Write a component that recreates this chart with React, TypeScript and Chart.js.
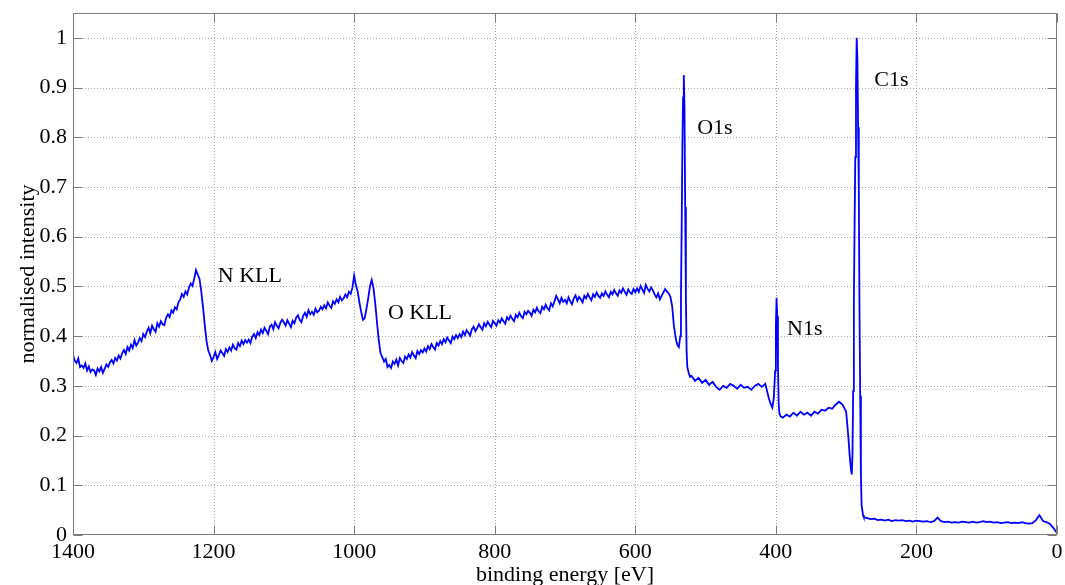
import React, { useEffect, useRef } from 'react';
import { Chart, registerables } from 'chart.js';

Chart.register(...registerables);

// ---- axis ticks ----
const xTickValues = [1400, 1200, 1000, 800, 600, 400, 200, 0];
const yTickValues = [0, 0.1, 0.2, 0.3, 0.4, 0.5, 0.6, 0.7, 0.8, 0.9, 1];

// ---- spectrum: Auger region 1400 -> 545 eV, 2.5 eV steps ----
const augerStart = 1400;
const augerStep = 2.5;
const augerIntensity = [
  0.362, 0.351, 0.346, 0.355, 0.338, 0.341, 0.336, 0.345, 0.331, 0.339, 0.328, 0.333, 0.331, 0.322, 0.335, 0.329, 0.338, 0.326, 0.334, 0.343,
  0.338, 0.347, 0.352, 0.345, 0.356, 0.351, 0.361, 0.355, 0.366, 0.372, 0.364, 0.378, 0.371, 0.383, 0.376, 0.392, 0.381, 0.387, 0.396, 0.390,
  0.404, 0.398, 0.409, 0.417, 0.406, 0.421, 0.414, 0.409, 0.426, 0.419, 0.430, 0.424, 0.422, 0.437, 0.444, 0.438, 0.452, 0.447, 0.458, 0.454,
  0.468, 0.474, 0.485, 0.479, 0.490, 0.484, 0.498, 0.506, 0.501, 0.516, 0.533, 0.524, 0.515, 0.490, 0.458, 0.422, 0.390, 0.371, 0.362, 0.350,
  0.358, 0.368, 0.354, 0.362, 0.371, 0.366, 0.360, 0.374, 0.368, 0.377, 0.371, 0.383, 0.376, 0.373, 0.386, 0.380, 0.391, 0.384, 0.392, 0.387,
  0.393, 0.386, 0.399, 0.404, 0.396, 0.408, 0.402, 0.413, 0.406, 0.417, 0.411, 0.404, 0.419, 0.423, 0.414, 0.428, 0.421, 0.416, 0.427, 0.433,
  0.428, 0.421, 0.432, 0.425, 0.418, 0.431, 0.426, 0.437, 0.442, 0.433, 0.428, 0.441, 0.447, 0.439, 0.452, 0.444, 0.449, 0.443, 0.455, 0.448,
  0.451, 0.459, 0.454, 0.462, 0.456, 0.468, 0.461, 0.457, 0.470, 0.465, 0.474, 0.468, 0.479, 0.472, 0.476, 0.484, 0.478, 0.489, 0.485, 0.497,
  0.522, 0.503, 0.490, 0.468, 0.449, 0.433, 0.436, 0.455, 0.476, 0.500, 0.513, 0.497, 0.466, 0.428, 0.392, 0.366, 0.358, 0.349, 0.354, 0.338,
  0.342, 0.336, 0.349, 0.344, 0.353, 0.341, 0.356, 0.350, 0.346, 0.359, 0.354, 0.363, 0.357, 0.368, 0.361, 0.356, 0.370, 0.364, 0.372, 0.367,
  0.375, 0.369, 0.380, 0.374, 0.384, 0.378, 0.373, 0.386, 0.381, 0.390, 0.384, 0.394, 0.388, 0.397, 0.391, 0.386, 0.399, 0.394, 0.402, 0.396,
  0.404, 0.398, 0.409, 0.402, 0.412, 0.407, 0.401, 0.414, 0.419, 0.410, 0.416, 0.424, 0.418, 0.413, 0.426, 0.420, 0.429, 0.423, 0.418, 0.431,
  0.426, 0.421, 0.432, 0.427, 0.436, 0.430, 0.425, 0.438, 0.433, 0.441, 0.435, 0.430, 0.443, 0.438, 0.447, 0.440, 0.436, 0.449, 0.444, 0.451,
  0.447, 0.441, 0.453, 0.448, 0.457, 0.450, 0.446, 0.459, 0.454, 0.463, 0.456, 0.452, 0.466, 0.460, 0.470, 0.481, 0.474, 0.466, 0.477, 0.469,
  0.473, 0.466, 0.478, 0.470, 0.464, 0.476, 0.482, 0.471, 0.479, 0.474, 0.468, 0.481, 0.476, 0.485, 0.478, 0.472, 0.484, 0.479, 0.488, 0.481,
  0.477, 0.486, 0.481, 0.490, 0.483, 0.478, 0.489, 0.484, 0.493, 0.486, 0.481, 0.492, 0.487, 0.496, 0.489, 0.483, 0.494, 0.488, 0.485, 0.495,
  0.488, 0.496, 0.489, 0.501, 0.494, 0.487, 0.503, 0.495, 0.490, 0.498, 0.492, 0.484, 0.478, 0.486, 0.474, 0.481, 0.488, 0.495, 0.490, 0.486,
  0.479, 0.460, 0.420,
];

// ---- O1s peak ----
const o1sEnergy = [542, 540, 538, 536, 535, 534, 533, 532, 531, 530, 529, 528, 527, 526, 524, 522];
const o1sIntensity = [0.392, 0.382, 0.378, 0.400, 0.480, 0.620, 0.780, 0.880, 0.925, 0.860, 0.660, 0.480, 0.370, 0.338, 0.326, 0.318];

// ---- between O1s and N1s: 520 -> 410 eV, 5 eV steps ----
const midStart = 520;
const midStep = 5;
const midIntensity = [
  0.320, 0.310, 0.316, 0.306, 0.312, 0.302, 0.308, 0.298, 0.292, 0.300,
  0.296, 0.304, 0.300, 0.294, 0.302, 0.296, 0.298, 0.292, 0.300, 0.304,
  0.298, 0.304, 0.275,
];

// ---- N1s peak ----
const n1sEnergy = [407, 405, 403, 401, 400, 399, 398, 397, 396, 395, 393];
const n1sIntensity = [0.262, 0.256, 0.275, 0.330, 0.420, 0.477, 0.440, 0.340, 0.265, 0.245, 0.238];

// ---- between N1s and C1s: 390 -> 300 eV, 5 eV steps ----
const lowStart = 390;
const lowStep = 5;
const lowIntensity = [
  0.236, 0.242, 0.238, 0.246, 0.240, 0.248, 0.242, 0.246, 0.240, 0.248,
  0.244, 0.252, 0.250, 0.256, 0.254, 0.262, 0.268, 0.262, 0.248,
];

// ---- C1s peak ----
const c1sEnergy = [297, 295, 293, 292, 291, 290, 289, 288, 287, 286, 285, 284, 283, 282, 281, 280, 279, 278, 276];
const c1sIntensity = [0.200, 0.160, 0.130, 0.122, 0.160, 0.290, 0.470, 0.620, 0.760, 0.900, 1.000, 0.960, 0.820, 0.700, 0.450, 0.280, 0.120, 0.060, 0.040];

// ---- tail: 275 -> 0 eV, 5 eV steps ----
const tailStart = 275;
const tailStep = 5;
const tailIntensity = [
  0.036, 0.034, 0.032, 0.033, 0.030, 0.031, 0.029, 0.031, 0.028, 0.030,
  0.029, 0.030, 0.028, 0.029, 0.027, 0.029, 0.028, 0.027, 0.028, 0.026,
  0.028, 0.035, 0.028, 0.026, 0.027, 0.025, 0.026, 0.025, 0.027, 0.026,
  0.025, 0.027, 0.025, 0.026, 0.028, 0.026, 0.027, 0.025, 0.026, 0.024,
  0.025, 0.026, 0.024, 0.025, 0.024, 0.026, 0.024, 0.023, 0.024, 0.030,
  0.040, 0.028, 0.026, 0.022, 0.014, 0.004,
];

// ---- peak annotations (text, energy, intensity of baseline-left) ----
const annotationText = ['N KLL', 'O KLL', 'O1s', 'N1s', 'C1s'];
const annotationEnergy = [1194, 952, 512, 384, 260];
const annotationIntensity = [0.509, 0.435, 0.807, 0.402, 0.903];

const FONT = '"Liberation Serif", "DejaVu Serif", serif';

type Pt = { x: number; y: number };
const regular = (start: number, step: number, vals: number[]): Pt[] =>
  vals.map((v, i) => ({ x: start - i * step, y: v }));
const explicit = (es: number[], vals: number[]): Pt[] =>
  vals.map((v, i) => ({ x: es[i], y: v }));

const spectrum: Pt[] = [
  ...regular(augerStart, augerStep, augerIntensity),
  ...explicit(o1sEnergy, o1sIntensity),
  ...regular(midStart, midStep, midIntensity),
  ...explicit(n1sEnergy, n1sIntensity),
  ...regular(lowStart, lowStep, lowIntensity),
  ...explicit(c1sEnergy, c1sIntensity),
  ...regular(tailStart, tailStep, tailIntensity),
];

const framePlugin = {
  id: 'matlabFrame',
  beforeDatasetsDraw(chart: any) {
    const { ctx, chartArea: a, scales } = chart;
    const xs = scales.x;
    const ys = scales.y;
    ctx.save();
    ctx.strokeStyle = '#a6a6a6';
    ctx.lineWidth = 1;
    ctx.setLineDash([1, 2]);
    ctx.beginPath();
    for (const t of xTickValues) {
      const px = Math.round(xs.getPixelForValue(t)) + 0.5;
      if (px <= a.left + 2 || px >= a.right - 2) continue;
      ctx.moveTo(px, a.top);
      ctx.lineTo(px, a.bottom);
    }
    for (const t of yTickValues) {
      const py = Math.round(ys.getPixelForValue(t)) + 0.5;
      if (py <= a.top + 2 || py >= a.bottom - 2) continue;
      ctx.moveTo(a.left, py);
      ctx.lineTo(a.right, py);
    }
    ctx.stroke();
    ctx.restore();
  },
  afterDatasetsDraw(chart: any) {
    const { ctx, chartArea: a, scales } = chart;
    const xs = scales.x;
    const ys = scales.y;
    const L = Math.round(a.left) + 0.5;
    const R = Math.round(a.right) - 0.5;
    const T = Math.round(a.top) + 0.5;
    const B = Math.round(a.bottom) - 0.5;
    ctx.save();
    ctx.setLineDash([]);
    ctx.strokeStyle = '#7a7a7a';
    ctx.lineWidth = 1;
    ctx.strokeRect(L, T, R - L, B - T);
    const tl = 9;
    ctx.beginPath();
    for (const t of xTickValues) {
      const px = Math.round(xs.getPixelForValue(t)) + 0.5;
      ctx.moveTo(px, B);
      ctx.lineTo(px, B - tl);
      ctx.moveTo(px, T);
      ctx.lineTo(px, T + tl);
    }
    for (const t of yTickValues) {
      const py = Math.round(ys.getPixelForValue(t)) + 0.5;
      ctx.moveTo(L, py);
      ctx.lineTo(L + tl, py);
      ctx.moveTo(R, py);
      ctx.lineTo(R - tl, py);
    }
    ctx.stroke();

    // annotations
    ctx.fillStyle = '#000';
    ctx.font = `22px ${FONT}`;
    ctx.textAlign = 'left';
    ctx.textBaseline = 'alphabetic';
    annotationText.forEach((txt, i) => {
      ctx.fillText(txt, xs.getPixelForValue(annotationEnergy[i]), ys.getPixelForValue(annotationIntensity[i]));
    });

    // axis titles
    ctx.textAlign = 'center';
    ctx.fillText('binding energy [eV]', (a.left + a.right) / 2, 581);
    ctx.save();
    ctx.translate(34, (a.top + a.bottom) / 2);
    ctx.rotate(-Math.PI / 2);
    ctx.fillText('normalised intensity', 0, 0);
    ctx.restore();
    ctx.restore();
  },
};

export default function App() {
  const ref = useRef<HTMLCanvasElement | null>(null);
  useEffect(() => {
    if (!ref.current) return;
    const chart = new Chart(ref.current, {
      type: 'line',
      data: {
        datasets: [
          {
            data: spectrum,
            borderColor: '#0000ff',
            borderWidth: 1.8,
            pointRadius: 0,
            tension: 0,
            fill: false,
          },
        ],
      },
      options: {
        animation: false,
        responsive: false,
        devicePixelRatio: 1,
        layout: { padding: { top: 13, right: 8, left: 0, bottom: 0 } },
        plugins: { legend: { display: false }, tooltip: { enabled: false } },
        scales: {
          x: {
            type: 'linear',
            reverse: true,
            min: 0,
            max: 1400,
            afterBuildTicks: (s: any) => {
              s.ticks = xTickValues.map((v) => ({ value: v }));
            },
            afterFit: (s: any) => {
              s.height = 50;
              s.paddingLeft = 0;
              s.paddingRight = 0;
            },
            grid: { display: false, drawTicks: false },
            border: { display: false },
            ticks: {
              color: '#000',
              font: { family: FONT, size: 22 },
              padding: 4,
              maxRotation: 0,
              autoSkip: false,
              callback: (v: any) => String(v),
            },
          },
          y: {
            type: 'linear',
            min: 0,
            max: 1.05,
            afterBuildTicks: (s: any) => {
              s.ticks = yTickValues.map((v) => ({ value: v }));
            },
            afterFit: (s: any) => {
              s.width = 73;
              s.paddingTop = 0;
              s.paddingBottom = 0;
            },
            grid: { display: false, drawTicks: false },
            border: { display: false },
            ticks: {
              color: '#000',
              font: { family: FONT, size: 22 },
              padding: 6,
              autoSkip: false,
              callback: (v: any) => String(Math.round(Number(v) * 10) / 10),
            },
          },
        },
      },
      plugins: [framePlugin],
    });
    return () => chart.destroy();
  }, []);
  return (
    <canvas
      ref={ref}
      width={1065}
      height={585}
      style={{ position: 'fixed', left: 0, top: 0, width: 1065, height: 585, background: '#fff' }}
    />
  );
}
